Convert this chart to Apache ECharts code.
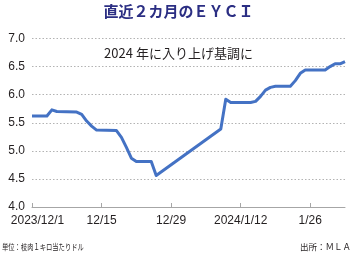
<!DOCTYPE html>
<html><head><meta charset="utf-8">
<script src="https://cdn.jsdelivr.net/npm/echarts@6/dist/echarts.min.js"></script>
<style>html,body{margin:0;padding:0;background:#fff}#c{width:357px;height:255px}</style>
</head><body><div id="c"></div>
<script>
// Calendar days on the x axis (2023/12/1 .. 2024/2/2)
const categories = ['12/1','12/2','12/3','12/4','12/5','12/6','12/7','12/8','12/9','12/10','12/11','12/12','12/13','12/14','12/15','12/16','12/17','12/18','12/19','12/20','12/21','12/22','12/23','12/24','12/25','12/26','12/27','12/28','12/29','12/30','12/31',
  '1/1','1/2','1/3','1/4','1/5','1/6','1/7','1/8','1/9','1/10','1/11','1/12','1/13','1/14','1/15','1/16','1/17','1/18','1/19','1/20','1/21','1/22','1/23','1/24','1/25','1/26','1/27','1/28','1/29','1/30','1/31','2/1','2/2'];
const tickLabels = ['2023/12/1','12/15','12/29','2024/1/12','1/26'];
// EYCI readings (US$/kg carcase weight)
const pointDates = ['12/1','12/4','12/5','12/6','12/10','12/11','12/12','12/13','12/14','12/18','12/19','12/20','12/21','12/22','12/25','12/26',
  '1/8','1/9','1/10','1/14','1/15','1/16','1/17','1/18','1/19','1/22','1/23','1/24','1/25','1/29','1/30','1/31','2/1','2/2'];
const pointValues = [5.62,5.62,5.73,5.70,5.69,5.65,5.53,5.44,5.37,5.36,5.24,5.06,4.87,4.81,4.81,4.56,
  5.39,5.92,5.86,5.86,5.88,5.97,6.08,6.13,6.15,6.15,6.25,6.38,6.44,6.44,6.50,6.55,6.55,6.59];
const yTicks = [4.0,4.5,5.0,5.5,6.0,6.5,7.0];

const FONT = '"Liberation Sans", "Noto Sans CJK JP", sans-serif';
const JP = '"Noto Sans CJK JP", sans-serif';
const chart = echarts.init(document.getElementById('c'), null, {renderer:'canvas'});
chart.setOption({
  animation: false,
  backgroundColor: '#fff',
  grid: {left: 32, right: 12, top: 38.5, bottom: 48},
  xAxis: {
    type: 'category', data: categories, boundaryGap: false,
    axisLine: {lineStyle: {color: '#a6a6a6', width: 1}},
    axisTick: {inside: true, length: 4, interval: 13, lineStyle: {color: '#a6a6a6'}},
    axisLabel: {
      interval: 13, margin: 8, color: '#231f20', fontSize: 12, fontFamily: FONT,
      formatter: (v, i) => i === 0 ? '{first|' + tickLabels[0] + '}' : (i % 14 === 0 ? tickLabels[i / 14] : ''),
      rich: {first: {padding: [0, 0, 0, 11], fontSize: 12, color: '#231f20', fontFamily: FONT}}
    },
    splitLine: {show: false}
  },
  yAxis: {
    type: 'value', min: yTicks[0], max: yTicks[yTicks.length - 1], interval: 0.5,
    axisLine: {show: false}, axisTick: {show: false},
    axisLabel: {margin: 7, color: '#231f20', fontSize: 12, fontFamily: FONT, formatter: v => v.toFixed(1)},
    splitLine: {lineStyle: {type: [1.5, 2], color: '#b3b3b3', width: 1}}
  },
  series: [{
    type: 'line',
    data: pointDates.map((d, i) => [d, pointValues[i]]),
    symbol: 'none', showSymbol: false,
    lineStyle: {color: '#4472c4', width: 3, join: 'round'},
    connectNulls: true
  }],
  graphic: [
    {type: 'text', left: 'center', top: 4, style: {text: '直近２カ月のＥＹＣＩ', fontSize: 15, fontWeight: 'bold', fontFamily: JP, fill: '#2b2e83'}},
    {type: 'text', x: 178.5, y: 53, style: {text: '2024 年に入り上げ基調に', fontSize: 13, fontFamily: JP, fill: '#231f20', align: 'center', verticalAlign: 'middle'}},
    {type: 'text', x: 2, y: 247, scaleX: 0.74, style: {text: '単位：枝肉１キロ当たりドル', fontSize: 8.5, fontFamily: JP, fill: '#231f20', align: 'left', verticalAlign: 'middle'}},
    {type: 'text', x: 351, y: 247, style: {text: '出所：ＭＬＡ', fontSize: 8.5, fontFamily: JP, fill: '#231f20', align: 'right', verticalAlign: 'middle'}}
  ]
});
</script></body></html>
